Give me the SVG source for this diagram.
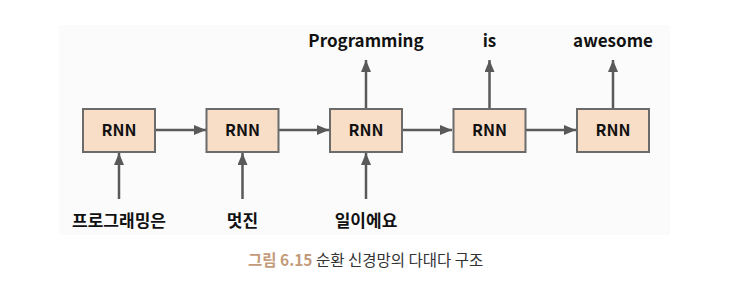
<svg xmlns="http://www.w3.org/2000/svg" width="744" height="292" viewBox="0 0 744 292">
<style>
.box{fill:#f9dec7;stroke:#6b6b6b;stroke-width:2}
.lbl{font-family:"Noto Sans CJK KR","Noto Sans",sans-serif;font-weight:700;font-size:16px;fill:#111;text-anchor:middle}
.w{font-family:"Noto Sans CJK KR","Noto Sans",sans-serif;font-weight:700;font-size:17px;fill:#111;text-anchor:middle}
.ar{stroke:#595959;stroke-width:2.5;fill:none;marker-end:url(#ah)}
.cap{font-family:"Noto Sans CJK KR","Noto Sans",sans-serif;font-size:15.5px;fill:#333}
</style>
<defs>
<marker id="ah" viewBox="0 0 12 10" refX="12" refY="5" markerWidth="12" markerHeight="10" markerUnits="userSpaceOnUse" orient="auto">
<path d="M0,0L12,5L0,10z" fill="#595959"/>
</marker>
</defs>
<rect x="59" y="25" width="611" height="210" fill="#fbfbfb"/>
<g id="connectors">
<line class="ar" x1="156" y1="130" x2="206" y2="130"/>
<line class="ar" x1="279" y1="130" x2="329" y2="130"/>
<line class="ar" x1="402" y1="130" x2="452" y2="130"/>
<line class="ar" x1="525" y1="130" x2="576" y2="130"/>
<line class="ar" x1="366" y1="108" x2="366" y2="60"/>
<line class="ar" x1="489.5" y1="108" x2="489.5" y2="60"/>
<line class="ar" x1="613" y1="108" x2="613" y2="60"/>
<line class="ar" x1="119" y1="199" x2="119" y2="153"/>
<line class="ar" x1="242.5" y1="199" x2="242.5" y2="153"/>
<line class="ar" x1="366" y1="199" x2="366" y2="153"/>
</g>
<g id="rnn1"><rect class="box" x="83" y="109" width="72" height="43"/><text class="lbl" x="119" y="136">RNN</text></g>
<g id="rnn2"><rect class="box" x="206.5" y="109" width="72" height="43"/><text class="lbl" x="242.5" y="136">RNN</text></g>
<g id="rnn3"><rect class="box" x="330" y="109" width="72" height="43"/><text class="lbl" x="366" y="136">RNN</text></g>
<g id="rnn4"><rect class="box" x="453.5" y="109" width="72" height="43"/><text class="lbl" x="489.5" y="136">RNN</text></g>
<g id="rnn5"><rect class="box" x="577" y="109" width="72" height="43"/><text class="lbl" x="613" y="136">RNN</text></g>
<g id="out3"><text class="w" x="366" y="47">Programming</text></g>
<g id="out4"><text class="w" x="489.5" y="47">is</text></g>
<g id="out5"><text class="w" x="613" y="47">awesome</text></g>
<g id="in1"><text class="w" x="119" y="227">프로그래밍은</text></g>
<g id="in2"><text class="w" x="242.5" y="227">멋진</text></g>
<g id="in3"><text class="w" x="366" y="227">일이에요</text></g>
<text class="cap" x="248" y="266"><tspan fill="#c39b7b" font-weight="700">그림 6.15</tspan> 순환 신경망의 다대다 구조</text>
</svg>
